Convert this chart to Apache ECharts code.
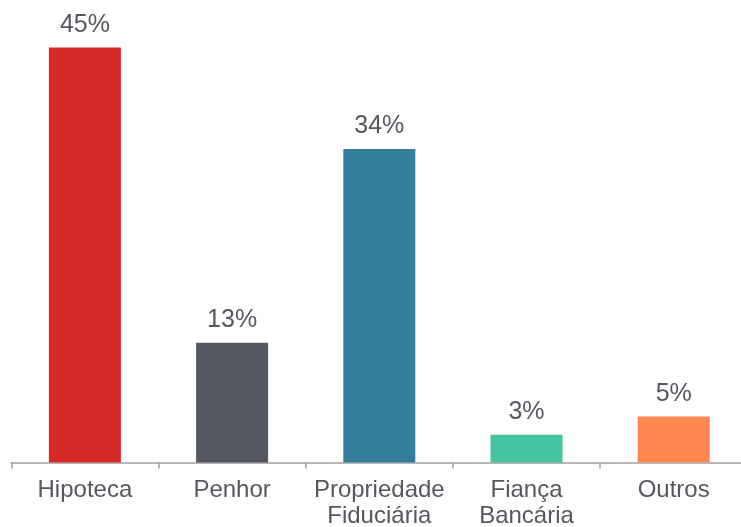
<!DOCTYPE html>
<html><head><meta charset="utf-8">
<script src="https://cdn.jsdelivr.net/npm/echarts@6/dist/echarts.min.js"></script>
<style>html,body{margin:0;padding:0;background:#fff}#c{width:741px;height:527px}</style>
</head><body><div id="c"></div>
<script>
const categories = ['Hipoteca', 'Penhor', 'Propriedade\nFiduciária', 'Fiança\nBancária', 'Outros'];
const values = [45, 13, 34, 3, 5];
const colors = ['#D62A29', '#545760', '#357E9B', '#48C3A1', '#FF864F'];
const chart = echarts.init(document.getElementById('c'), null, {renderer: 'canvas'});
chart.setOption({
  animation: false,
  grid: {left: 11.3, right: -6.3, top: 1.5, bottom: 64.5, outerBoundsMode: 'none', containLabel: false},
  xAxis: {
    type: 'category', data: categories,
    axisLine: {lineStyle: {color: '#A0A0A0', width: 1.5}},
    axisTick: {show: true, length: 6, lineStyle: {color: '#A0A0A0', width: 1.5}},
    axisLabel: {fontFamily: 'Liberation Sans', fontSize: 24, color: '#55575E', lineHeight: 26, margin: 15, interval: 0}
  },
  yAxis: {type: 'value', min: 0, max: 50, show: false, splitLine: {show: false}},
  series: [{
    type: 'bar', barWidth: 72,
    data: values.map((v, i) => ({value: v, itemStyle: {color: colors[i]}})),
    label: {show: true, position: 'top', distance: 10, formatter: '{c}%', fontFamily: 'Liberation Sans', fontSize: 25, color: '#55575E'}
  }]
});
</script></body></html>
